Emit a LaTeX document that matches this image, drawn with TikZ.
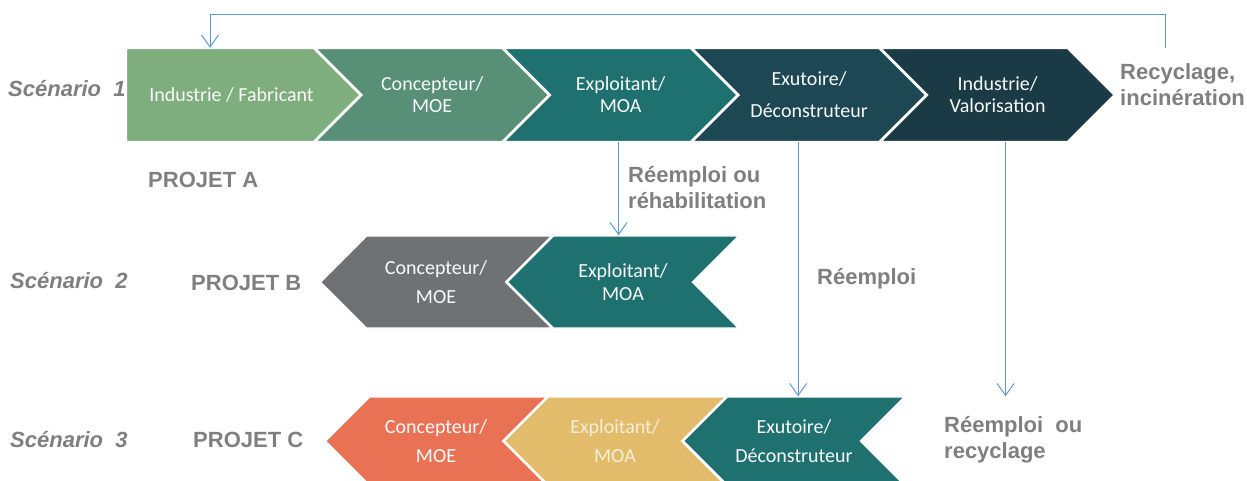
\documentclass[tikz,border=0pt]{standalone}
\usepackage{fontspec}
\setmainfont{Carlito}
\newfontfamily\labfont{Liberation Sans}
\usetikzlibrary{arrows.meta,positioning,shapes.symbols}

\definecolor{vertclair}{HTML}{7FAE7E}
\definecolor{vertmoyen}{HTML}{578F77}
\definecolor{sarcelle}{HTML}{1F7170}
\definecolor{petrole}{HTML}{1D4853}
\definecolor{petrolefonce}{HTML}{1A3B46}
\definecolor{grismoe}{HTML}{6F7274}
\definecolor{orangemoe}{HTML}{E97254}
\definecolor{jaunemoa}{HTML}{E2BC6A}
\definecolor{gristexte}{HTML}{7F7F7F}
\definecolor{bleulien}{HTML}{5B9BD5}

\begin{document}
\begin{tikzpicture}[
  x=1pt, y=-1pt,
  chev/.style={signal, signal pointer angle=90, draw=white, line width=1.4pt, text=white!95!gray,
    align=center, inner sep=0pt, font=\fontsize{20}{22}\selectfont},
  aller/.style={chev, signal from=west, signal to=east, minimum width=233, minimum height=93},
  retour/.style={chev, signal from=east, signal to=west},
  lab/.style={font=\labfont\bfseries\fontsize{22}{26}\selectfont, text=gristexte, align=left, inner sep=0pt},
  scen/.style={lab, font=\labfont\bfseries\itshape\fontsize{22}{26}\selectfont},
  link/.style={draw=bleulien, line width=1pt, -{Straight Barb[length=12pt,width=17pt,line width=1pt]}},
]
\useasboundingbox (0,0) rectangle (1247,480);

% scenario 1 : chaine lineaire
\node[aller, signal from=nowhere, fill=vertclair] (indus) at (220,95) {\hspace*{23pt}Industrie / Fabricant};
\node[aller, fill=vertmoyen, right=0pt of indus] (conc) {Concepteur/\\MOE};
\node[aller, fill=sarcelle, right=0pt of conc] (explo) {Exploitant/\\MOA};
\node[aller, fill=petrole, right=0pt of explo] (exut) {Exutoire/\\[10pt]D\'econstruteur};
\node[aller, fill=petrolefonce, right=0pt of exut] (valo) {Industrie/\\Valorisation};

% scenario 2
\node[retour, fill=grismoe, minimum width=231, minimum height=92] (concB) at (436,282) {Concepteur/\\[7pt]MOE};
\node[retour, fill=sarcelle, minimum width=231, minimum height=92, right=0pt of concB] (exploB) {Exploitant/\\[1pt]MOA};

% scenario 3
\node[retour, fill=orangemoe, minimum width=221, minimum height=88] (concC) at (436,441) {Concepteur/\\[7pt]MOE};
\node[retour, fill=jaunemoa, text=jaunemoa!25!white, minimum width=221, minimum height=88, right=0pt of concC] (exploC) {Exploitant/\\[7pt]MOA};
\node[retour, fill=sarcelle, minimum width=221, minimum height=88, right=0pt of exploC] (exutC) {Exutoire/\\[7pt]D\'econstruteur};

% libelles
\node[scen, anchor=west] (sc1) at (8,89) {Sc\'enario\ \ 1};
\node[scen, anchor=west] (sc2) at (10,281) {Sc\'enario\ \ 2};
\node[scen, anchor=west] (sc3) at (10,440) {Sc\'enario\ \ 3};
\node[lab, anchor=west] (projA) at (148,180) {PROJET A};
\node[lab, anchor=west] (projB) at (191,283) {PROJET B};
\node[lab, anchor=west] (projC) at (193,440) {PROJET C};
\node[lab, anchor=west] (recyc) at (1120,85) {Recyclage,\\incin\'eration};
\node[lab, anchor=west] (reha) at (628,188) {R\'eemploi ou\\r\'ehabilitation};
\node[lab, anchor=west] (reemp) at (817,279) {R\'eemploi};
\node[lab, anchor=west] (recyC) at (944,440) {R\'eemploi\ \ ou\\recyclage};

% fleches
\coordinate (fbstart) at (1165,48);
\draw[link] (fbstart) -- ++(0,-34) -| ([xshift=-10pt]indus.north);
\draw[link] ([xshift=-2pt]explo.south) -- ([xshift=-2pt]explo.south |- exploB.north);
\draw[link] ([xshift=-11pt]exut.south) -- ([xshift=-11pt]exut.south |- exutC.north);
\draw[link] ([xshift=8pt]valo.south) -- ([xshift=8pt]valo.south |- exutC.north);

\end{tikzpicture}
\end{document}
